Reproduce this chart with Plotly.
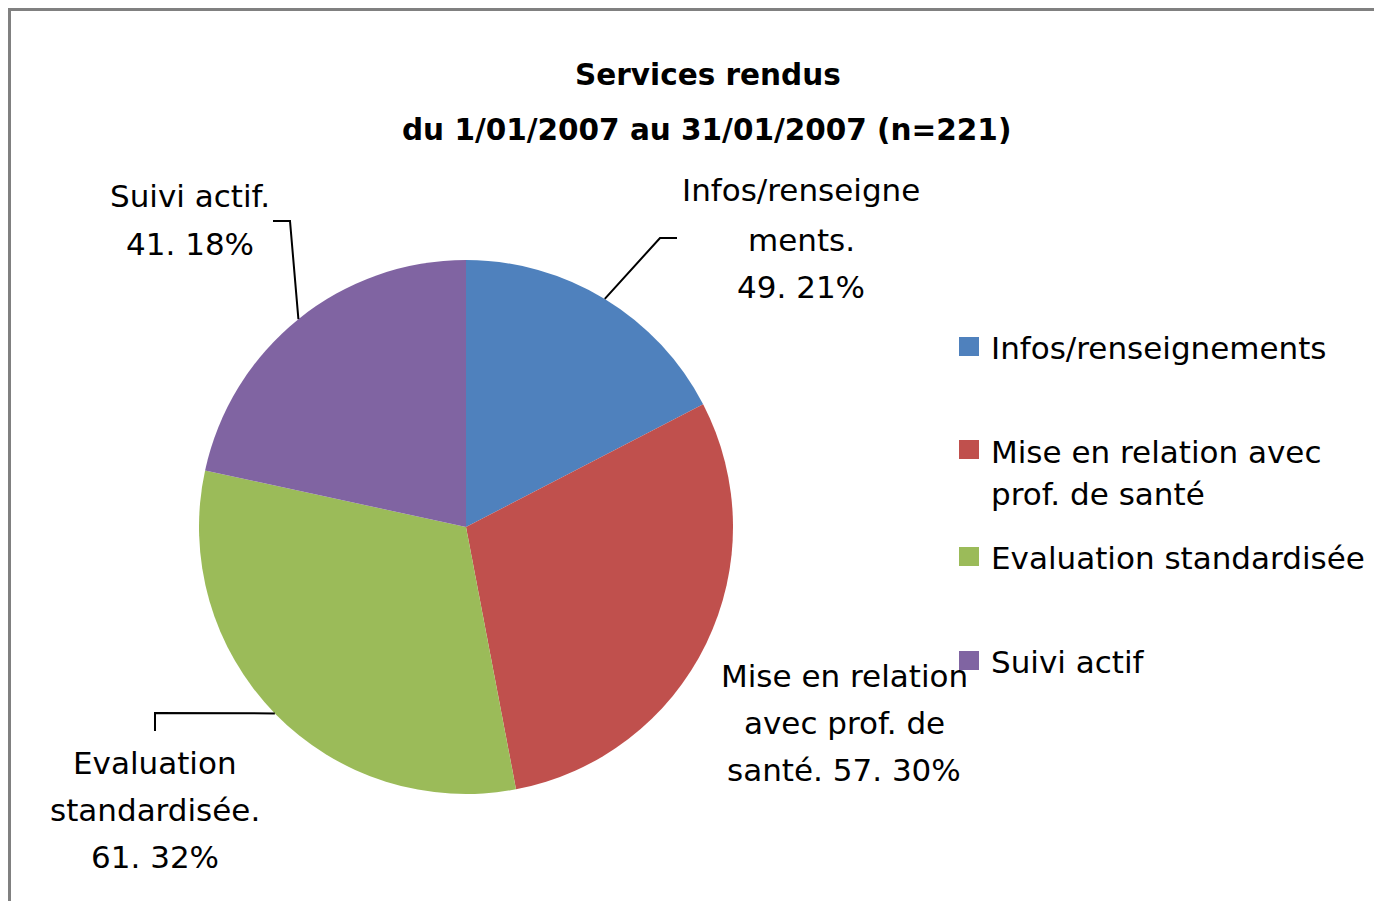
import math
import plotly.graph_objects as go

# ---- data ----
categories = ["Infos/renseignements", "Mise en relation avec prof. de santé",
              "Evaluation standardisée", "Suivi actif"]
counts = [49, 57, 61, 41]                 # numbers shown in the data labels
label_pct = ["21%", "30%", "32%", "18%"]  # percentages shown in the data labels
shares = [17.4, 29.6, 31.4, 21.6]         # slice sizes as drawn (% of the circle)
colors = ["#4F81BD", "#C0504D", "#9BBB59", "#8064A2"]
title_lines = ["Services rendus", "du 1/01/2007 au 31/01/2007 (n=221)"]

# page is 1382x909; the html body adds an 8px margin around the figure
W, H = 1382, 909
OFF = 8
FW, FH = W - 2 * OFF, H - 2 * OFF
def px(x): return (x - OFF) / FW
def py(y): return 1 - (y - OFF) / FH

# pie geometry (page pixels)
CX, CY, R = 466, 527, 267
dom_x = [px(CX - R), px(CX + R)]
dom_y = [py(CY + R), py(CY - R)]

fig = go.Figure(go.Pie(
    labels=categories, values=shares, sort=False, direction="clockwise",
    rotation=0, marker=dict(colors=colors, line=dict(width=0)),
    textinfo="none", hoverinfo="label+percent", showlegend=False,
    domain=dict(x=dom_x, y=dom_y),
))

# mid-angle anchors of each slice on the pie edge, computed from the data
total = sum(shares)
anchors = []
acc = 0
for s in shares:
    mid = (acc + s / 2) / total * 2 * math.pi
    anchors.append((CX + R * math.sin(mid), CY - R * math.cos(mid)))
    acc += s

LBL_FONT = dict(family="DejaVu Sans", size=31, color="#000000")
ann = []
def text(x, y, t, font=LBL_FONT, xanchor="center"):
    ann.append(dict(x=px(x), y=py(y), xref="paper", yref="paper", text=t,
                    showarrow=False, xanchor=xanchor, yanchor="middle", font=font))

# title
TFONT = dict(family="DejaVu Sans", size=29.5, color="#000000")
text(708, 75, "<b>%s</b>" % title_lines[0], TFONT)
text(706.5, 130, "<b>%s</b>" % title_lines[1], TFONT)

# data labels
lab_lines = [
    (801, [190, 240, 287], ["Infos/renseigne", "ments.", "%d. %s" % (counts[0], label_pct[0])]),
    (844, [676, 723, 770], ["Mise en relation", "avec prof. de", "santé. %d. %s" % (counts[1], label_pct[1])]),
    (155, [763, 810, 857], ["Evaluation", "standardisée.", "%d. %s" % (counts[2], label_pct[2])]),
    (190, [196, 244], ["Suivi actif.", "%d. %s" % (counts[3], label_pct[3])]),
]
for cx, ys, lines in lab_lines:
    for y, t in zip(ys, lines):
        text(cx, y, t)

shapes = []
def poly(points):
    path = "M " + " L ".join("%f,%f" % (px(x), py(y)) for x, y in points)
    shapes.append(dict(type="path", path=path, xref="paper", yref="paper",
                       line=dict(color="#000000", width=2)))

poly([anchors[0], (660, 238), (677, 238)])
poly([anchors[2], (155, 713), (155, 731)])
poly([anchors[3], (290, 221), (273, 221)])

# legend (manual, to match spacing)
LEG_FONT = dict(family="DejaVu Sans", size=31, color="#000000")
leg_rows = [([348], 346.5), ([452, 494], 449.5), ([558], 556.5), ([662], 660.5)]
leg_texts = [[categories[0]], ["Mise en relation avec", "prof. de santé"],
             [categories[2]], [categories[3]]]
for i, ((ys, sq), lines) in enumerate(zip(leg_rows, leg_texts)):
    shapes.append(dict(type="rect", xref="paper", yref="paper",
                       x0=px(959), x1=px(979), y0=py(sq + 9.5), y1=py(sq - 9.5),
                       fillcolor=colors[i], line=dict(width=0)))
    for y, t in zip(ys, lines):
        text(989, y, t, LEG_FONT, xanchor="left")

# chart border (right and bottom edges fall outside the picture)
shapes.append(dict(type="rect", xref="paper", yref="paper",
                   x0=px(9.5), x1=px(W + 40), y0=py(H + 40), y1=py(9.5),
                   line=dict(color="#808080", width=3), fillcolor="rgba(0,0,0,0)"))

fig.update_layout(
    width=FW, height=FH, margin=dict(l=0, r=0, t=0, b=0),
    paper_bgcolor="#FFFFFF", plot_bgcolor="#FFFFFF",
    annotations=ann, shapes=shapes, showlegend=False,
)
fig.write_html("out.html")
